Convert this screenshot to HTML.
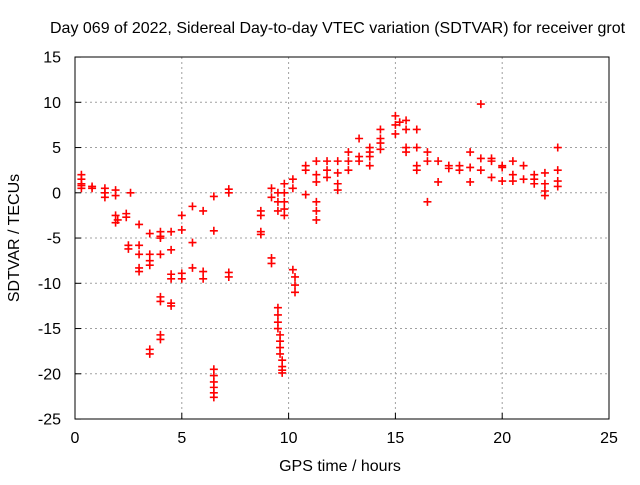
<!DOCTYPE html>
<html><head><meta charset="utf-8"><style>
body{margin:0;background:#fff;}
svg text{font-family:"Liberation Sans",sans-serif;font-size:16px;fill:#000;}
</style></head><body>
<svg id="chart" width="640" height="480" xmlns="http://www.w3.org/2000/svg">
<text x="50" y="33">Day 069 of 2022, Sidereal Day-to-day VTEC variation (SDTVAR) for receiver grot</text>
<g id="grid"></g>
<g id="axes"></g>
<g id="marks"></g>
<text x="340" y="471" text-anchor="middle">GPS time / hours</text>
<text transform="translate(19,238) rotate(-90)" text-anchor="middle">SDTVAR / TECUs</text>
</svg>
<script>
const xTicks=[0,5,10,15,20,25];
const yTicks=[15,10,5,0,-5,-10,-15,-20,-25];
const xs=[0.3,0.3,0.3,0.3,0.3,0.8,0.8,1.4,1.4,1.4,1.9,1.9,1.9,1.9,2.0,2.4,2.4,2.5,2.5,2.6,3.0,3.0,3.0,3.0,3.0,3.5,3.5,3.5,3.5,3.5,3.5,4.0,4.0,4.0,4.0,4.0,4.0,4.0,4.0,4.5,4.5,4.5,4.5,4.5,4.5,5.0,5.0,5.0,5.0,5.5,5.5,5.5,6.0,6.0,6.0,6.5,6.5,6.5,6.5,6.5,6.5,6.5,6.5,7.2,7.2,7.2,7.2,8.7,8.7,8.7,8.7,9.2,9.2,9.2,9.2,9.5,9.5,9.5,9.5,9.5,9.5,9.5,9.6,9.6,9.6,9.6,9.7,9.7,9.7,9.7,9.8,9.8,9.8,9.8,9.8,10.2,10.2,10.2,10.3,10.3,10.3,10.8,10.8,10.8,11.3,11.3,11.3,11.3,11.3,11.3,11.8,11.8,11.8,12.3,12.3,12.3,12.3,12.8,12.8,12.8,13.3,13.3,13.3,13.8,13.8,13.8,13.8,14.3,14.3,14.3,14.3,15.0,15.0,15.0,15.2,15.5,15.5,15.5,15.5,16.0,16.0,16.0,16.0,16.5,16.5,16.5,17.0,17.0,17.5,17.5,18.0,18.0,18.5,18.5,18.5,19.0,19.0,19.0,19.5,19.5,19.5,20.0,20.0,20.0,20.5,20.5,20.5,21.0,21.0,21.5,21.5,21.5,22.0,22.0,22.0,22.0,22.6,22.6,22.6,22.6];
const ys=[2,1.5,1,0.5,0.8,0.7,0.5,0.5,-0.5,0,0.3,-0.3,-2.5,-3.3,-3,-2.3,-2.7,-5.8,-6.2,0,-3.5,-5.8,-8.3,-8.7,-6.8,-4.5,-6.8,-7.5,-8,-17.3,-17.8,-4.3,-4.8,-5,-6.8,-11.5,-12,-15.7,-16.2,-4.3,-6.3,-9,-9.5,-12.2,-12.5,-2.5,-4.1,-8.9,-9.5,-1.5,-5.5,-8.3,-2,-8.7,-9.5,-0.4,-4.2,-19.5,-20.2,-20.9,-21.5,-22.1,-22.6,0.4,0,-8.8,-9.3,-2,-2.5,-4.3,-4.6,0.5,-0.5,-7.2,-7.8,0,-1,-2,-12.7,-13.5,-14.3,-15,-15.7,-16.4,-17.1,-17.8,-18.5,-19.2,-19.6,-19.9,1,0,-1,-1.8,-2.5,1.5,0.5,-8.5,-9.3,-10.2,-11,2.5,3.0,-0.2,3.5,2,1.2,-1,-2,-3,3.5,2.5,1.7,3.5,2.2,1,0.3,4.5,3.5,2.5,6,4,3.5,5,4.5,3,4,7,6,5.5,4.8,8.5,7.5,6.5,7.8,8,7,5,4.5,7,5,3,2.5,4.5,3.5,-1,3.5,1.2,3,2.7,3,2.5,4.5,2.8,1.2,9.8,3.8,2.5,3.8,3.5,1.7,3,2.8,1.3,3.5,2,1.3,3,1.5,2,1.5,1,2.2,1,0.2,-0.3,5,2.5,1.3,0.7];
const X=v=>75+v*(534/25), Y=v=>192.8-v*9.05;
const NS='http://www.w3.org/2000/svg';
function mk(tag,attrs,parent){const e=document.createElementNS(NS,tag);for(const k in attrs)e.setAttribute(k,attrs[k]);parent.appendChild(e);return e;}
const grid=document.getElementById('grid'),axes=document.getElementById('axes'),marks=document.getElementById('marks');
xTicks.forEach(t=>{
  if(t>0&&t<25){const l=mk('line',{x1:X(t),x2:X(t),y1:57,y2:419,stroke:'#a0a0a0','stroke-dasharray':'2,3'},grid);
  
  }
  const tk=mk('line',{x1:X(t),x2:X(t),y1:419,y2:413,stroke:'#000'},axes);
  
  
  const tx=mk('text',{x:X(t),y:443,'text-anchor':'middle'},axes);tx.textContent=t;
  
  
});
yTicks.forEach(t=>{
  if(t<15&&t>-25){const l=mk('line',{x1:75,x2:609,y1:Y(t),y2:Y(t),stroke:'#a0a0a0','stroke-dasharray':'2,3'},grid);
  
  }
  const tk=mk('line',{x1:75,x2:81,y1:Y(t),y2:Y(t),stroke:'#000'},axes);
  
  
  const tx=mk('text',{x:61,y:Y(t)+5.5,'text-anchor':'end'},axes);tx.textContent=t;
  
  
});
const fr=mk('rect',{x:75,y:57,width:534,height:362,fill:'none',stroke:'#000'},axes);


xs.forEach((v,i)=>{
  const cx=X(v),cy=Y(ys[i]);
  const p=mk('path',{d:`M${cx-4},${cy}H${cx+4}M${cx},${cy-4}V${cy+4}`,stroke:'#ff0000','stroke-width':1.6,fill:'none'},marks);
  
  
});
</script>
</body></html>
